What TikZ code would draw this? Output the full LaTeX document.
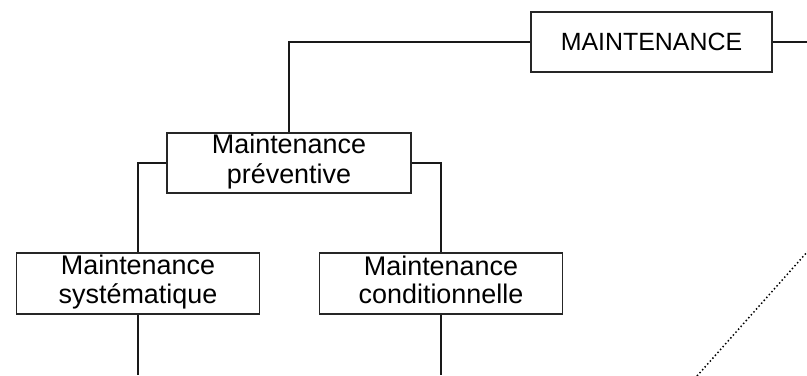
\documentclass[tikz,border=0pt]{standalone}
\usepackage{fontspec}
\setmainfont{Liberation Sans}
\begin{document}
\begin{tikzpicture}[x=0.75pt,y=-0.75pt,
  box/.style={draw=black!85,line width=1.2pt,fill=white,inner sep=0pt,
    minimum width=182.25pt,minimum height=45.75pt,align=center,
    font=\fontsize{20.2}{21}\selectfont},
  link/.style={draw=black!90,line width=1pt},
  dotline/.style={draw=black,line width=1.1pt,dash pattern=on 1.1pt off 1.8pt}]
\clip (0,0) rectangle (807,375);
\fill[white] (0,0) rectangle (807,375);

% boxes
\node[box,minimum width=180.75pt,minimum height=45pt,
  font=\fontsize{18.7}{21}\selectfont] (main) at (651.5,42) {MAINTENANCE};
\node[box,minimum width=183pt,minimum height=45pt] (prev) at (289,163)
  {Maintenance\strut\\préventive\strut};
\node[box] (sys) at (138,283.5) {Maintenance\strut\\systématique\strut};
\node[box] (cond) at (441,283.5) {Maintenance\strut\\conditionnelle\strut};

% free ends of the connectors
\coordinate (mainR) at (807,42);
\coordinate (sysD) at (138,375);
\coordinate (condD) at (441,375);
\coordinate (dotA) at (697,376);
\coordinate (dotB) at (808,251);

% connectors
\draw[link] (main.west) -| (prev.north);
\draw[link] (main.east) -- (mainR);
\draw[link] (prev.west) -| (sys.north);
\draw[link] (prev.east) -| (cond.north);
\draw[link] (sys.south) -- (sysD);
\draw[link] (cond.south) -- (condD);
\draw[dotline] (dotA) -- (dotB);
\end{tikzpicture}
\end{document}
